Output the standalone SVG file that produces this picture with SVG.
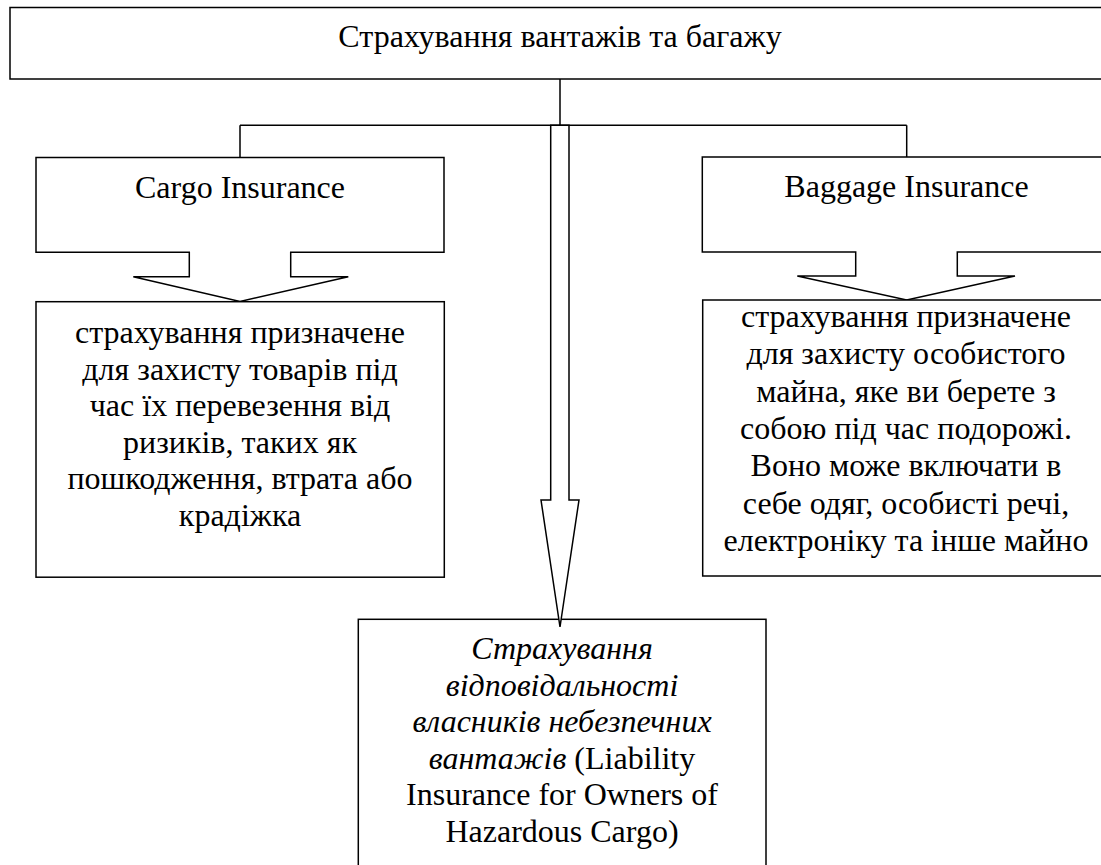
<svg xmlns="http://www.w3.org/2000/svg" width="1101" height="865" viewBox="0 0 1101 865">
<style>
.s{fill:#fff;stroke:#000;stroke-width:1.5}
.l{fill:none;stroke:#000;stroke-width:1.5}
text{font-family:"Liberation Serif","Times New Roman",serif;font-size:32px;fill:#000;text-anchor:middle}
.i{font-style:italic}
</style>
<rect width="1101" height="865" fill="#fff"/>
<g id="connectors">
<path class="l" d="M560,79 V125.3 M240,125.3 H906.7 M240,125.3 V157.5 M906.7,125.3 V157"/>
</g>
<g id="root">
<rect class="s" x="10" y="7.5" width="1100" height="71.5"/>
<text x="560" y="47">Страхування вантажів та багажу</text>
</g>
<g id="cargo">
<polygon class="s" points="36,157.5 444,157.5 444,252.3 290.7,252.3 290.7,276.7 348.3,276.7 240,301.5 133.3,276.7 189.3,276.7 189.3,252.3 36,252.3"/>
<text x="240" y="198">Cargo Insurance</text>
</g>
<g id="baggage">
<polygon class="s" points="702.3,157 1110,157 1110,252 957.3,252 957.3,276 1015,276 906.7,300 797.3,276 855.7,276 855.7,252 702.3,252"/>
<text x="906.5" y="197">Baggage Insurance</text>
</g>
<g id="cargo-desc">
<rect class="s" x="36" y="301.7" width="408.3" height="275.5"/>
<text x="240" y="343">страхування призначене</text>
<text x="240" y="379.5">для захисту товарів під</text>
<text x="240" y="416">час їх перевезення від</text>
<text x="240" y="452.5">ризиків, таких як</text>
<text x="240" y="489">пошкодження, втрата або</text>
<text x="240" y="525.5">крадіжка</text>
</g>
<g id="baggage-desc">
<rect class="s" x="702.7" y="300" width="407.3" height="276"/>
<text x="906" y="327">страхування призначене</text>
<text x="906" y="364.3">для захисту особистого</text>
<text x="906" y="401.6">майна, яке ви берете з</text>
<text x="906" y="438.9">собою під час подорожі.</text>
<text x="906" y="476.2">Воно може включати в</text>
<text x="906" y="513.5">себе одяг, особисті речі,</text>
<text x="906" y="550.8">електроніку та інше майно</text>
</g>
<g id="liability">
<rect class="s" x="358.3" y="619.3" width="407.7" height="260"/>
<text x="562" y="659" class="i">Страхування</text>
<text x="562" y="695.5" class="i">відповідальності</text>
<text x="562" y="732" class="i">власників небезпечних</text>
<text x="562" y="768.5"><tspan class="i">вантажів</tspan> (Liability</text>
<text x="562" y="805">Insurance for Owners of</text>
<text x="562" y="841.5">Hazardous Cargo)</text>
</g>
<g id="main-arrow">
<polygon class="s" points="550.7,125.3 569,125.3 569,500 579,500 560,627 541,500 550.7,500"/>
</g>
</svg>
